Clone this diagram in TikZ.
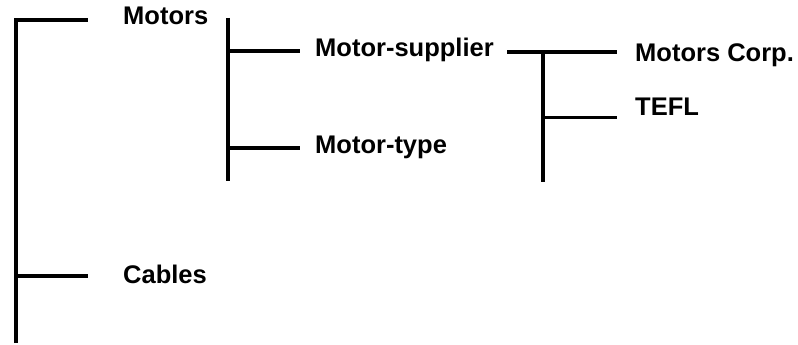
\documentclass[tikz,border=0pt]{standalone}
\usepackage{fontspec}
\setmainfont{Liberation Sans}
\begin{document}
\begin{tikzpicture}[x=1pt,y=-1pt,
  lbl/.style={inner sep=0pt, anchor=base west, font=\fontsize{25.5}{30}\selectfont\bfseries},
  tree/.style={line width=4.5pt, black},
  thin/.style={line width=3pt, black}]
\useasboundingbox (0,0) rectangle (798,345);
% labels
\node[lbl] (motors) at (123,25) {Motors};
\node[lbl] (cables) at (123,283) {Cables};
\node[lbl] (msup) at (315,57) {Motor-supplier};
\node[lbl] (mtype) at (315,153) {Motor-type};
\node[lbl] (corp) at (635,62) {Motors Corp.};
\node[lbl] (tefl) at (635,115) {TEFL};
% junction coordinates
\coordinate (r0) at (16,20);
\coordinate (r1) at (88,20);
\coordinate (c0) at (16,276);
\coordinate (c1) at (88,276);
\coordinate (rb) at (16,343);
\coordinate (m0) at (228,18);
\coordinate (mb) at (228,181);
\coordinate (s0) at (228,51);
\coordinate (s1) at (300,51);
\coordinate (t0) at (228,148);
\coordinate (t1) at (300,148);
\coordinate (p0) at (507,52);
\coordinate (p1) at (617,52);
\coordinate (v0) at (543,52);
\coordinate (vb) at (543,182);
\coordinate (e0) at (543,117);
\coordinate (e1) at (617,117);
% lines
\draw[tree] (rb) -- (r0) -- (r1);
\draw[tree] (c0) -- (c1);
\draw[tree] (m0) -- (mb);
\draw[tree] (s0) -- (s1);
\draw[tree] (t0) -- (t1);
\draw[tree] (p0) -- (p1);
\draw[line width=4pt] (v0) -- (vb);
\draw[thin] (e0) -- (e1);
\end{tikzpicture}
\end{document}
